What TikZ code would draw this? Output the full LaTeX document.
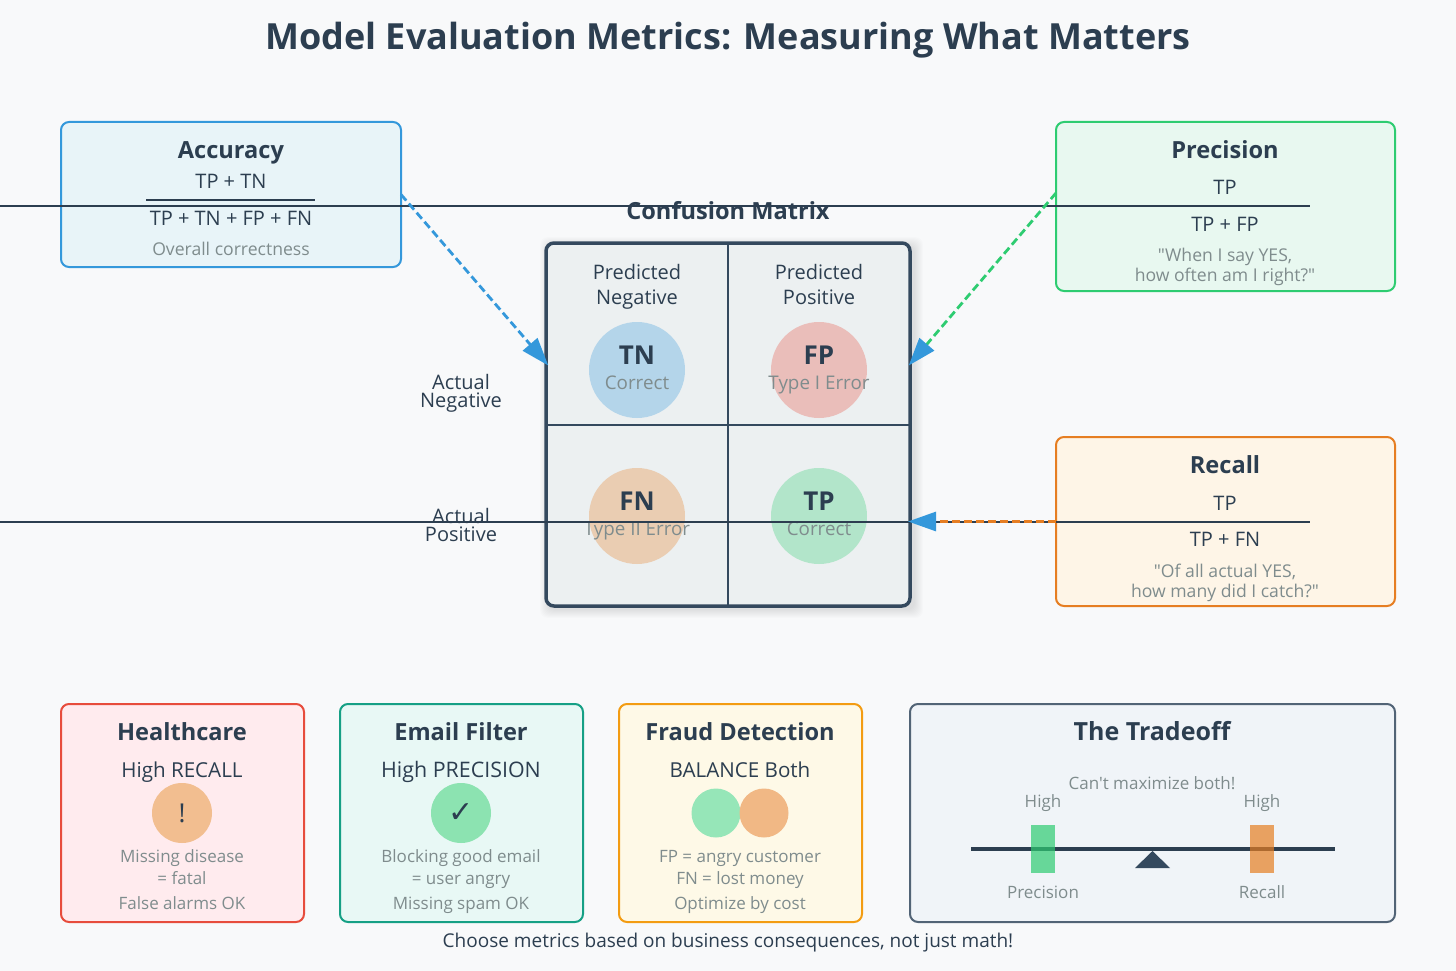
\documentclass[tikz,border=0pt]{standalone}
\usepackage{fontspec}
\setmainfont{Open Sans}
\newfontfamily\symfont{DejaVu Sans}
\newfontfamily\plainfont{Open Sans}
\usetikzlibrary{positioning,arrows.meta,calc}
\definecolor{ink}      {HTML}{2C3E50}
\definecolor{slate}    {HTML}{34495E}
\definecolor{softink}  {HTML}{7F8C8D}
\definecolor{pagebg}   {HTML}{F8F9FA}
\definecolor{skyblue}  {HTML}{3498DB}
\definecolor{leaf}     {HTML}{2ECC71}
\definecolor{carrot}   {HTML}{E67E22}
\definecolor{tomato}   {HTML}{E74C3C}
\definecolor{teal}     {HTML}{16A085}
\definecolor{sunny}    {HTML}{F39C12}
\definecolor{accfill}  {HTML}{E8F4F8}
\definecolor{precfill} {HTML}{E8F8F0}
\definecolor{recfill}  {HTML}{FEF5E7}
\definecolor{carefill} {HTML}{FFEBEE}
\definecolor{mailfill} {HTML}{E8F8F5}
\definecolor{fraudfill}{HTML}{FEF9E7}
\definecolor{tradefill}{HTML}{F0F4F8}
\definecolor{mtxfill}  {HTML}{ECF0F1}
\tikzset{
  every node/.style={inner sep=0pt, outer sep=0pt, text=ink},
  % --- boxes
  panel/.style    = {rounded corners=8pt, line width=2pt, anchor=north west},
  cell/.style     = {circle, minimum size=96pt, fill opacity=.3},
  % --- texts
  maintitle/.style= {font=\fontsize{36}{38}\selectfont\bfseries, anchor=mid, yshift=-10pt},
  boxtitle/.style = {font=\fontsize{23.6}{25}\selectfont\bfseries, anchor=mid, yshift=-6pt},
  formula/.style  = {font=\fontsize{20}{22}\selectfont, anchor=mid, yshift=-5pt},
  subhead/.style  = {font=\fontsize{20.6}{22}\selectfont, anchor=mid, yshift=-5pt},
  axislbl/.style  = {font=\fontsize{20}{22}\selectfont, anchor=mid, yshift=-4.5pt},
  cellname/.style = {font=\fontsize{26}{28}\selectfont\bfseries, anchor=mid, yshift=-6pt},
  hint/.style     = {font=\fontsize{17.6}{19}\selectfont\plainfont, text=softink, anchor=mid, yshift=-3.5pt},
  cellhint/.style = {hint, font=\fontsize{18.8}{20}\selectfont},
  casetxt/.style  = {hint, font=\fontsize{17}{19}\selectfont\plainfont},
  footer/.style   = {font=\fontsize{19}{21}\selectfont, anchor=mid, yshift=-4.5pt},
  % --- edges
  rule/.style     = {line width=2pt, draw=ink},
  pointer/.style  = {line width=2.8pt, dash pattern=on 8pt off 4pt, shorten >=-2pt,
                     -{Triangle[length=28pt,width=19pt,color=skyblue]}},
}
\begin{document}
\begin{tikzpicture}[x=1pt,y=-1pt]
  \useasboundingbox[fill=pagebg] (0,0) rectangle (1456,971);
  \node[maintitle] (title) at (728,37) {Model Evaluation Metrics: Measuring What Matters};

  % --- metric boxes
  \node[panel,draw=skyblue,fill=accfill,minimum width=340pt,minimum height=145pt] (acc) at (61,122) {};
  \node[panel,draw=leaf,fill=precfill,minimum width=339pt,minimum height=169pt] (prec) at (1056,122) {};
  \node[panel,draw=carrot,fill=recfill,minimum width=339pt,minimum height=169pt] (rec) at (1056,437) {};

  \node[boxtitle] (acct) at (231,150) {Accuracy};
  \node[formula] (accn) at (231,181) {TP + TN};
  \node[formula] (accd) at (231,218) {TP + TN + FP + FN};
  \node[hint] (accq) at (231,249) {Overall correctness};
  \coordinate (accl) at (146,200); \coordinate (accr) at (315,200);
  \draw[rule] (accl) -- (accr);

  \node[boxtitle] (prect) at (1225,150) {Precision};
  \node[formula] (precn) at (1225,187) {TP};
  \node[formula] (precd) at (1225,224) {TP + FP};
  \node[hint] (precq) at (1225,255) {"When I say YES,};
  \node[hint] (precr) at (1225,275) {how often am I right?"};

  \node[boxtitle] (rect) at (1225,465) {Recall};
  \node[formula] (recn) at (1225,503) {TP};
  \node[formula] (recd) at (1225,539) {TP + FN};
  \node[hint] (recq) at (1225,571) {"Of all actual YES,};
  \node[hint] (recr) at (1225,591) {how many did I catch?"};

  % --- confusion matrix
  \foreach \s in {9,...,1}
    \fill[black,opacity=.012,rounded corners=8pt] (546-\s+3,243-\s+3) rectangle (911+\s+3,606+\s+3);
  \node[boxtitle] (mtxt) at (728,211) {Confusion Matrix};
  \node[panel,draw=slate,fill=mtxfill,line width=3.5pt,minimum width=364pt,minimum height=363pt] (mtx) at (546,243) {};
  \coordinate (vtop) at (728,243); \coordinate (vbot) at (728,606);
  \coordinate (hleft) at (546,425); \coordinate (hright) at (911,425);
  \draw[line width=2.8pt,draw=slate] (vtop) -- (vbot);
  \draw[line width=2.8pt,draw=slate] (hleft) -- (hright);

  \node[axislbl] (pn1) at (637,272) {Predicted};
  \node[axislbl] (pn2) at (637,297) {Negative};
  \node[axislbl] (pp1) at (819,272) {Predicted};
  \node[axislbl] (pp2) at (819,297) {Positive};
  \node[axislbl] (an1) at (461,382) {Actual};
  \node[axislbl] (an2) at (461,400) {Negative};
  \node[axislbl] (ap1) at (461,516) {Actual};
  \node[axislbl] (ap2) at (461,534) {Positive};

  \node[cell,fill=skyblue] (tn) at (637,370) {};
  \node[cell,fill=tomato]  (fp) at (819,370) {};
  \node[cell,fill=carrot]  (fn) at (637,516) {};
  \node[cell,fill=leaf]    (tp) at (819,516) {};
  \node[cellname] (tnn) at (637,356) {TN};
  \node[cellhint] (tns) at (637,383) {Correct};
  \node[cellname] (fpn) at (819,356) {FP};
  \node[cellhint] (fps) at (819,383) {Type I Error};
  \node[cellname] (fnn) at (637,502) {FN};
  \node[cellhint] (fns) at (637,529) {Type II Error};
  \node[cellname] (tpn) at (819,502) {TP};
  \node[cellhint] (tps) at (819,529) {Correct};

  % --- stray fraction rules
  \coordinate (ruleal) at (0,206); \coordinate (rulear) at (1310,206);
  \coordinate (rulebl) at (0,521.5); \coordinate (rulebr) at (1310,521.5);
  \draw[rule] (ruleal) -- (rulear);
  \draw[rule] (rulebl) -- (rulebr);

  % --- pointers
  \coordinate (mtxa) at (547,364);
  \coordinate (mtxb) at (910,364);
  \coordinate (preco) at (1056,193);
  \draw[pointer,draw=skyblue] (acc.east) -- (mtxa);
  \draw[pointer,draw=leaf] (preco) -- (mtxb);
  \draw[pointer,draw=carrot] (rec.west) -- (mtx.east |- rec.west);

  % --- use cases
  \node[panel,draw=tomato,fill=carefill,minimum width=243pt,minimum height=218pt] (care) at (61,704) {};
  \node[panel,draw=teal,fill=mailfill,minimum width=243pt,minimum height=218pt] (mail) at (340,704) {};
  \node[panel,draw=sunny,fill=fraudfill,minimum width=243pt,minimum height=218pt] (fraud) at (619,704) {};
  \node[panel,draw=slate!85,fill=tradefill,minimum width=485pt,minimum height=218pt] (trade) at (910,704) {};

  \node[boxtitle] (caret) at (182,732) {Healthcare};
  \node[subhead] (careh) at (182,770) {High RECALL};
  \node[circle,minimum size=60pt,fill=carrot!50!white,font=\fontsize{26}{28}\selectfont] (carec) at (182,813) {!};
  \node[casetxt] (care1) at (182,856) {Missing disease};
  \node[casetxt] (care2) at (182,878) {= fatal};
  \node[casetxt] (care3) at (182,903) {False alarms OK};

  \node[boxtitle] (mailt) at (461,732) {Email Filter};
  \node[subhead,font=\fontsize{21.4}{23}\selectfont] (mailh) at (461,770) {High PRECISION};
  \node[circle,minimum size=60pt,fill=leaf!55!white,font=\fontsize{30}{32}\selectfont\symfont] (mailc) at (461,813) {✓};
  \node[casetxt] (mail1) at (461,856) {Blocking good email};
  \node[casetxt] (mail2) at (461,878) {= user angry};
  \node[casetxt] (mail3) at (461,903) {Missing spam OK};

  \node[boxtitle] (fraudt) at (740,732) {Fraud Detection};
  \node[subhead] (fraudh) at (740,770) {BALANCE Both};
  \node[circle,minimum size=49pt,fill=leaf!50!white] (fraudg) at (716,813) {};
  \node[circle,minimum size=49pt,fill=carrot!55!white] (frauda) at (764,813) {};
  \node[casetxt] (fraud1) at (740,856) {FP = angry customer};
  \node[casetxt] (fraud2) at (740,878) {FN = lost money};
  \node[casetxt] (fraud3) at (740,903) {Optimize by cost};

  % --- tradeoff
  \node[boxtitle,font=\fontsize{25}{27}\selectfont\bfseries] (tradet) at (1152,732) {The Tradeoff};
  \node[casetxt] (both) at (1152,783) {Can't maximize both!};
  \node[casetxt] (highp) at (1043,801) {High};
  \node[casetxt] (highr) at (1262,801) {High};
  \coordinate (beaml) at (971,849); \coordinate (beamr) at (1335,849);
  \draw[line width=4pt,draw=ink] (beaml) -- (beamr);
  \fill[slate] (1152.5,851) -- (1170,868) -- (1135,868) -- cycle;
  \fill[leaf,opacity=.7] (1031,825) rectangle (1055,873);
  \fill[carrot,opacity=.7] (1250,825) rectangle (1274,873);
  \node[casetxt] (lowp) at (1043,892) {Precision};
  \node[casetxt] (lowr) at (1262,892) {Recall};

  \node[footer] (foot) at (728,940) {Choose metrics based on business consequences, not just math!};
\end{tikzpicture}
\end{document}
